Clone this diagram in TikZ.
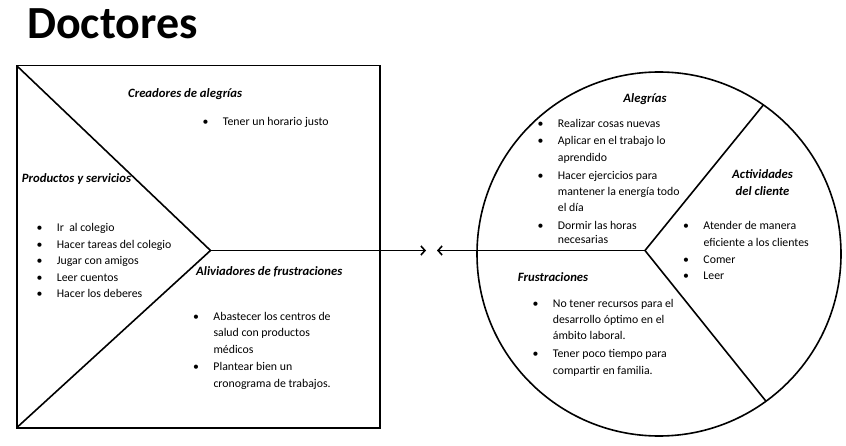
\documentclass[tikz,border=0pt]{standalone}
\usepackage{fontspec}
\setmainfont{Carlito}
\usetikzlibrary{arrows.meta,calc}
\newcommand{\bl}{\llap{\textbullet\hspace{14.5pt}}}
\begin{document}
\begin{tikzpicture}[x=1pt,y=-1pt,
  txt/.style={anchor=base west, inner sep=0pt, font=\fontsize{11.8}{14}\selectfont},
  ttl/.style={anchor=base west, inner sep=0pt, font=\fontsize{12.7}{15}\selectfont\bfseries\itshape},
  ctl/.style={anchor=base, inner sep=0pt, font=\fontsize{12.7}{15}\selectfont\bfseries\itshape},
  ln/.style={line width=1.6pt},
  tip/.style={-{Straight Barb[length=4pt,width=9pt]}}]
\useasboundingbox (0,0) rectangle (846,446);
\node[anchor=base west, inner sep=0pt, font=\fontsize{46}{52}\selectfont\bfseries] (title) at (27,38.5) {Doctores};
% left square
\node[draw, ln, anchor=north west, inner sep=0pt, outer sep=0pt, minimum width=363.3pt, minimum height=362pt] (box) at (16.7,65.7) {};
\coordinate (apex) at (210.5,250.5);
\draw[ln, line join=miter] (box.north west) -- (apex) -- (box.south west);
\coordinate (rt) at (426,250.5);
\draw[ln, tip] (apex) -- (rt);
% circle
\node[draw, ln, circle, inner sep=0pt, outer sep=0pt, minimum size=364pt] (circ) at (659,254) {};
\coordinate (v) at (645,250.5);
\draw[ln] (circ.55.8) -- (v) -- (circ.-54.9);
\coordinate (lt) at (437,250.5);
\draw[ln, tip] (v) -- (lt);
% square texts
\node[ttl] (t1) at (128,97.5) {Creadores de alegrías};
\node[txt] (c1) at (222.7,126) {\bl Tener un horario justo};
\node[ttl] (t2) at (21.7,182.5) {Productos y servicios};
\node[txt] (p1) at (56.7,231.3) {\bl Ir\ \ al colegio};
\node[txt] (p2) at (56.7,248.3) {\bl Hacer tareas del colegio};
\node[txt] (p3) at (56.7,265) {\bl Jugar con amigos};
\node[txt] (p4) at (56.7,281.7) {\bl Leer cuentos};
\node[txt] (p5) at (56.7,298) {\bl Hacer los deberes};
\node[ttl] (t3) at (196,275.2) {Aliviadores de frustraciones};
\node[txt] (a1) at (213.3,320) {\bl Abastecer los centros de};
\node[txt] (a2) at (213.3,336.3) {salud con productos};
\node[txt] (a3) at (213.3,353) {médicos};
\node[txt] (a4) at (213.3,370) {\bl Plantear bien un};
\node[txt] (a5) at (213.3,387.3) {cronograma de trabajos.};
% circle texts
\node[ctl] (t4) at (645,102.8) {Alegrías};
\node[txt] (g1) at (557.7,128) {\bl Realizar cosas nuevas};
\node[txt] (g2) at (557.7,145) {\bl Aplicar en el trabajo lo};
\node[txt] (g3) at (557.7,161.7) {aprendido};
\node[txt] (g4) at (557.7,180) {\bl Hacer ejercicios para};
\node[txt] (g5) at (557.7,195.7) {mantener la energía todo};
\node[txt] (g6) at (557.7,211.7) {el día};
\node[txt] (g7) at (557.7,229.7) {\bl Dormir las horas};
\node[txt] (g8) at (557.7,244) {necesarias};
\node[ctl] (t5) at (762.5,178.8) {Actividades};
\node[ctl] (t6) at (762.5,195.5) {del cliente};
\node[txt] (d1) at (703.3,230) {\bl Atender de manera};
\node[txt] (d2) at (703.3,246.7) {eficiente a los clientes};
\node[txt] (d3) at (703.3,264) {\bl Comer};
\node[txt] (d4) at (703.3,280) {\bl Leer};
\node[ttl] (t7) at (517.7,281.8) {Frustraciones};
\node[txt] (f1) at (552.7,307.3) {\bl No tener recursos para el};
\node[txt] (f2) at (552.7,323.3) {desarrollo óptimo en el};
\node[txt] (f3) at (552.7,340) {ámbito laboral.};
\node[txt] (f4) at (552.7,357.3) {\bl Tener poco tiempo para};
\node[txt] (f5) at (552.7,374.7) {compartir en familia.};
\end{tikzpicture}
\end{document}
